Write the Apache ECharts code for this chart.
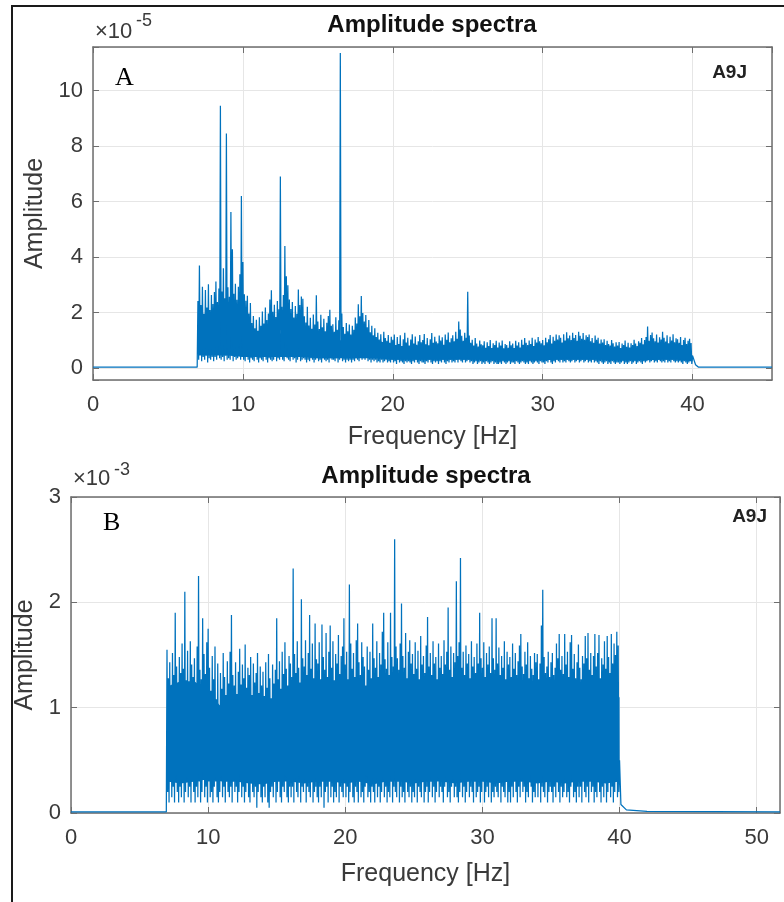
<!DOCTYPE html>
<html>
<head>
<meta charset="utf-8">
<script src="https://cdn.jsdelivr.net/npm/echarts@6/dist/echarts.min.js"></script>
<style>html,body{margin:0;padding:0;background:#fff}#c{width:784px;height:902px}</style>
</head>
<body>
<div id="c"></div>
<script>
// ---------- DATA ----------
// Frequency grid of the noisy band: 7.0 .. 39.9 Hz, one bin per 0.1 Hz
const bandStart = 7.0;
const bandStep = 0.1;
const xTicksA = [0, 10, 20, 30, 40];
const yTicksA = [0, 2, 4, 6, 8, 10];
const xTicksB = [0, 10, 20, 30, 40, 50];
const yTicksB = [0, 1, 2, 3];

// Panel A, amplitude in units of 1e-5: per-bin peak (upper) and trough (lower) values
const aHi = [
2.42,3.7,2.27,2.93,1.96,2.81,2.18,3.02,2.09,2.63,
2.31,2.74,3.12,2.38,2.87,9.45,2.76,3.6,2.52,8.45,
2.91,2.57,5.62,4.28,2.68,3.04,2.46,2.93,3.38,6.2,
3.82,2.66,2.43,2.61,1.97,2.34,1.62,1.88,1.43,1.74,
1.34,1.83,1.52,2.04,1.61,2.18,1.73,1.97,2.47,2.8,
2.03,2.28,1.84,2.42,2.12,6.9,2.21,2.63,4.4,3.31,
2.98,2.47,2.13,2.38,1.82,2.24,1.96,2.83,2.27,2.58,
2.5,1.87,1.64,2.21,1.53,1.81,1.42,1.93,1.57,2.62,
1.68,1.41,1.92,1.47,1.78,1.33,1.63,1.88,2.1,1.52,
1.58,1.31,1.83,1.38,1.72,11.35,1.97,1.48,1.24,1.62,
1.33,1.57,1.21,1.52,1.38,1.82,1.61,2.3,1.87,2.6,
1.98,1.68,1.91,1.47,1.73,1.29,1.52,1.18,1.43,1.12,
1.27,1.03,1.22,0.94,1.31,1.08,0.98,1.19,0.91,1.13,
1.02,1.21,0.83,1.12,0.87,1.18,0.79,1.04,1.27,0.92,
1.09,0.81,1.03,1.22,0.88,1.14,0.84,0.97,1.19,0.93,
1.01,1.23,0.86,1.08,0.82,1.04,1.26,0.91,1.13,0.96,
0.89,1.17,0.99,1.11,0.84,1.21,1.02,1.28,0.93,1.07,
1.18,0.97,1.31,1.06,1.68,1.39,1.16,0.98,1.27,1.09,
2.75,1.17,0.91,1.02,0.81,1.08,0.88,0.78,0.99,0.86,
0.82,0.97,0.73,0.93,0.79,1.01,0.72,0.89,0.83,0.98,
0.74,0.92,0.81,0.99,0.71,0.87,0.83,0.73,0.97,0.82,
0.88,0.72,0.98,0.81,0.93,0.74,1.02,0.84,1.08,0.91,
0.83,0.99,0.87,1.09,0.79,1.03,0.92,1.12,0.97,0.89,
1.01,0.82,1.09,0.93,1.04,1.19,0.88,1.13,0.98,1.21,
1.03,1.18,1.09,0.92,1.22,0.99,1.29,1.07,1.17,1.01,
1.27,1.08,1.19,0.98,1.31,1.16,1.06,1.26,1.02,1.18,
1.12,1.21,0.97,1.08,0.91,1.17,1.02,1.09,0.88,1.03,
0.92,1.04,0.83,0.98,0.87,0.81,1.01,0.89,0.78,0.93,
0.81,0.94,0.72,0.88,0.83,0.99,0.77,0.91,0.74,0.89,
0.83,1.02,0.88,0.79,0.97,0.91,1.08,0.86,1.01,1.12,
1.5,0.98,1.19,1.28,1.07,0.97,1.21,0.92,1.11,1.03,
1.31,1.09,0.96,1.18,0.89,1.13,0.99,1.22,0.93,1.07,
1.04,0.91,1.12,0.83,1.01,1.09,0.87,0.98,1.06,0.9
];
const aLo = [
0.3,0.5,0.25,0.4,0.3,0.45,0.2,0.35,0.3,0.4,
0.25,0.4,0.3,0.5,0.35,0.3,0.4,0.25,0.45,0.3,
0.35,0.3,0.45,0.25,0.4,0.3,0.35,0.5,0.3,0.4,
0.3,0.25,0.4,0.3,0.2,0.35,0.3,0.25,0.4,0.3,
0.2,0.35,0.3,0.25,0.4,0.3,0.2,0.35,0.3,0.25,
0.3,0.4,0.25,0.35,0.3,0.45,0.3,0.25,0.4,0.35,
0.3,0.25,0.4,0.3,0.35,0.2,0.3,0.4,0.25,0.3,
0.35,0.3,0.2,0.3,0.25,0.35,0.3,0.2,0.3,0.35,
0.25,0.3,0.2,0.35,0.3,0.25,0.3,0.2,0.35,0.3,
0.3,0.25,0.35,0.2,0.3,0.4,0.25,0.3,0.2,0.3,
0.25,0.3,0.2,0.3,0.25,0.35,0.3,0.25,0.4,0.3,
0.35,0.3,0.4,0.25,0.3,0.2,0.3,0.25,0.3,0.2,
0.25,0.2,0.3,0.2,0.25,0.3,0.2,0.25,0.2,0.3,
0.2,0.25,0.15,0.3,0.2,0.25,0.2,0.15,0.25,0.2,
0.25,0.2,0.15,0.25,0.2,0.3,0.2,0.15,0.25,0.2,
0.2,0.15,0.25,0.2,0.3,0.2,0.15,0.25,0.2,0.25,
0.15,0.25,0.2,0.3,0.2,0.15,0.25,0.2,0.3,0.2,
0.25,0.2,0.3,0.2,0.35,0.25,0.2,0.3,0.2,0.25,
0.3,0.2,0.25,0.15,0.2,0.25,0.15,0.2,0.25,0.15,
0.2,0.15,0.25,0.2,0.15,0.2,0.25,0.15,0.2,0.15,
0.15,0.2,0.15,0.25,0.2,0.15,0.2,0.25,0.15,0.2,
0.2,0.15,0.25,0.2,0.15,0.2,0.25,0.2,0.15,0.2,
0.15,0.25,0.2,0.15,0.2,0.25,0.2,0.15,0.25,0.2,
0.2,0.15,0.25,0.2,0.3,0.2,0.15,0.25,0.2,0.3,
0.25,0.2,0.3,0.2,0.25,0.2,0.3,0.25,0.2,0.25,
0.3,0.2,0.25,0.3,0.2,0.25,0.3,0.2,0.25,0.3,
0.2,0.25,0.2,0.3,0.2,0.25,0.2,0.15,0.25,0.2,
0.15,0.2,0.25,0.15,0.2,0.15,0.25,0.2,0.15,0.2,
0.2,0.15,0.2,0.25,0.15,0.2,0.15,0.2,0.25,0.15,
0.2,0.25,0.15,0.2,0.25,0.2,0.15,0.25,0.2,0.25,
0.3,0.2,0.25,0.3,0.2,0.25,0.2,0.3,0.25,0.2,
0.25,0.2,0.3,0.2,0.25,0.2,0.3,0.25,0.2,0.25,
0.2,0.25,0.2,0.15,0.25,0.2,0.15,0.2,0.25,0.15
];
// Panel A flat parts outside the band: [Hz, amplitude]
const aBefore = [[0, 0.03], [6.95, 0.03]];
const aAfter = [[40.0, 0.45], [40.2, 0.12], [40.4, 0.03], [45.3, 0.03]];
// Dense (dark) core of the band, read per 1 Hz from 7 to 40 Hz
const coreFreq = [7,8,9,10,11,12,13,14,15,16,17,18,19,20,21,22,23,24,25,26,27,28,29,30,31,32,33,34,35,36,37,38,39,40];
const aCoreHi = [1.7,1.8,1.7,1.4,1.1,1.2,1.3,1.2,1.1,1.0,1.0,1.1,1.0,0.8,0.7,0.65,0.65,0.65,0.7,0.65,0.55,0.55,0.55,0.6,0.65,0.7,0.75,0.7,0.6,0.55,0.6,0.65,0.6,0.45];
const aCoreLo = [0.45,0.45,0.45,0.4,0.4,0.4,0.4,0.4,0.35,0.35,0.35,0.35,0.35,0.3,0.3,0.3,0.3,0.3,0.3,0.3,0.28,0.28,0.28,0.28,0.3,0.3,0.3,0.3,0.28,0.28,0.28,0.3,0.3,0.25];

// Panel B, amplitude in units of 1e-3
const bHi = [
1.55,1.28,1.43,1.17,1.52,1.31,1.9,1.39,1.22,1.48,
1.33,1.61,1.37,2.1,1.26,1.54,1.19,1.63,1.41,1.29,
1.47,1.21,1.58,2.25,1.36,1.27,1.85,1.51,1.32,1.62,
1.75,1.38,1.16,1.49,1.27,1.58,1.08,1.42,1.02,1.33,
1.18,1.52,1.29,1.12,1.44,1.23,1.53,1.88,1.31,1.21,
1.43,1.13,1.34,1.56,1.22,1.41,1.28,1.6,1.19,1.38,
1.31,1.48,1.12,1.42,1.24,1.33,1.52,1.14,1.39,1.21,
1.34,1.11,1.43,1.19,1.51,1.28,1.09,1.41,1.23,1.36,
1.85,1.27,1.44,1.18,1.53,1.32,1.62,1.37,1.21,1.49,
1.42,1.29,2.32,1.51,1.33,1.63,1.38,1.24,2.03,1.47,
1.39,1.64,1.31,1.52,1.88,1.37,1.61,1.28,1.8,1.46,
1.42,1.62,1.27,1.79,1.48,1.36,1.71,1.29,1.53,1.78,
1.38,1.63,1.26,1.51,1.42,1.69,1.32,1.49,1.58,1.85,
1.41,1.53,1.27,2.17,1.61,1.37,1.52,1.29,1.64,1.8,
1.43,1.31,1.62,1.48,1.39,1.21,1.58,1.36,1.53,1.28,
1.8,1.47,1.38,1.63,1.29,1.52,1.41,1.72,1.9,1.46,
1.37,1.62,1.31,1.9,1.48,1.39,2.6,1.58,1.47,1.36,
1.61,1.99,1.49,1.38,1.71,1.28,1.53,1.64,1.42,1.51,
1.32,1.62,1.37,1.54,1.27,1.68,1.41,1.49,1.33,1.59,
1.86,1.39,1.52,1.31,1.63,1.42,1.48,1.27,1.61,1.38,
1.49,1.32,1.64,1.41,1.53,1.95,1.36,1.58,1.29,1.52,
1.43,2.2,1.49,1.62,2.42,1.38,1.53,1.31,1.59,1.42,
1.51,1.28,1.63,1.39,1.48,1.33,1.61,1.42,1.9,1.47,
1.38,1.62,1.29,1.52,1.41,1.58,1.33,1.85,1.47,1.36,
1.85,1.42,1.57,1.31,1.49,1.38,1.63,1.27,1.53,1.41,
1.48,1.29,1.61,1.37,1.52,1.31,1.44,1.59,1.7,1.39,
1.32,1.53,1.41,1.62,1.28,1.49,1.37,1.31,1.52,1.43,
1.51,1.27,1.42,1.78,2.12,1.48,1.33,1.39,1.53,1.29,
1.43,1.52,1.31,1.38,1.61,1.47,1.7,1.36,1.49,1.32,
1.7,1.41,1.53,1.29,1.62,1.69,1.37,1.51,1.28,1.43,
1.6,1.38,1.27,1.49,1.42,1.68,1.47,1.71,1.36,1.52,
1.31,1.49,1.7,1.39,1.52,1.69,1.28,1.47,1.41,1.63,
1.37,1.68,1.48,1.33,1.7,1.42,1.61,1.5,1.72,1.59
];
const bLo = [
0.2,0.1,0.3,0.15,0.25,0.1,0.35,0.2,0.1,0.25,
0.15,0.3,0.1,0.2,0.35,0.15,0.25,0.1,0.3,0.2,
0.1,0.25,0.15,0.3,0.1,0.2,0.35,0.15,0.25,0.1,
0.3,0.15,0.2,0.1,0.25,0.3,0.15,0.1,0.2,0.35,
0.15,0.25,0.1,0.3,0.2,0.15,0.25,0.1,0.3,0.2,
0.25,0.1,0.2,0.35,0.15,0.25,0.1,0.2,0.3,0.15,
0.1,0.3,0.2,0.15,0.25,0.05,0.2,0.3,0.15,0.1,
0.25,0.15,0.3,0.1,0.05,0.2,0.25,0.15,0.3,0.1,
0.2,0.3,0.15,0.1,0.25,0.2,0.35,0.15,0.1,0.25,
0.15,0.25,0.1,0.3,0.2,0.15,0.35,0.1,0.25,0.2,
0.3,0.1,0.25,0.2,0.15,0.3,0.1,0.2,0.25,0.15,
0.1,0.25,0.15,0.3,0.05,0.2,0.25,0.1,0.3,0.15,
0.25,0.1,0.2,0.15,0.3,0.1,0.25,0.2,0.15,0.3,
0.15,0.25,0.1,0.2,0.3,0.15,0.1,0.25,0.2,0.1,
0.3,0.15,0.2,0.1,0.25,0.35,0.15,0.2,0.1,0.25,
0.2,0.1,0.3,0.15,0.25,0.1,0.2,0.3,0.15,0.25,
0.1,0.2,0.15,0.3,0.1,0.25,0.2,0.15,0.3,0.1,
0.25,0.15,0.2,0.1,0.3,0.2,0.15,0.25,0.1,0.2,
0.15,0.3,0.1,0.25,0.2,0.15,0.3,0.1,0.2,0.25,
0.1,0.2,0.3,0.15,0.25,0.1,0.2,0.35,0.15,0.25,
0.2,0.1,0.25,0.3,0.15,0.2,0.1,0.25,0.3,0.15,
0.25,0.15,0.1,0.2,0.3,0.15,0.25,0.1,0.2,0.3,
0.15,0.25,0.2,0.1,0.3,0.15,0.2,0.25,0.1,0.2,
0.3,0.1,0.2,0.25,0.15,0.3,0.1,0.2,0.15,0.25,
0.2,0.15,0.3,0.1,0.25,0.2,0.15,0.3,0.1,0.2,
0.1,0.25,0.15,0.3,0.2,0.1,0.25,0.15,0.3,0.2,
0.25,0.1,0.2,0.15,0.3,0.25,0.1,0.2,0.15,0.3,
0.15,0.3,0.1,0.25,0.2,0.15,0.3,0.1,0.2,0.25,
0.2,0.1,0.25,0.15,0.3,0.2,0.1,0.25,0.15,0.2,
0.3,0.15,0.2,0.1,0.25,0.3,0.15,0.2,0.1,0.25,
0.15,0.25,0.1,0.3,0.2,0.15,0.25,0.1,0.3,0.2,
0.25,0.1,0.2,0.15,0.3,0.2,0.1,0.25,0.15,0.3,
0.1,0.2,0.3,0.15,0.25,0.1,0.2,0.3,0.15,0.2
];
const bBefore = [[0, 0.01], [6.95, 0.01]];
const bAfter = [[40.0, 0.5], [40.1, 0.08], [40.5, 0.03], [42, 0.015], [51.7, 0.01]];
const bCoreHi = [1.2,1.25,1.25,1.15,1.0,1.1,1.05,1.05,1.1,1.15,1.15,1.2,1.15,1.15,1.1,1.15,1.2,1.15,1.1,1.15,1.1,1.15,1.2,1.1,1.05,1.1,1.15,1.15,1.05,1.1,1.05,1.15,1.1,1.1];
const bCoreLo = [0.3,0.28,0.3,0.32,0.3,0.3,0.28,0.27,0.3,0.3,0.28,0.3,0.3,0.28,0.3,0.27,0.3,0.3,0.28,0.3,0.3,0.28,0.3,0.3,0.28,0.3,0.3,0.28,0.3,0.28,0.3,0.3,0.28,0.3];

// ---------- BUILD ----------
function buildSeries(before, hi, lo, after) {
  const out = before.slice();
  for (let i = 0; i < hi.length; i++) {
    const f = +(bandStart + i * bandStep).toFixed(2);
    out.push([f, hi[i]]);
    out.push([+(f + bandStep / 2).toFixed(3), lo[i]]);
  }
  return out.concat(after);
}
const dataA = buildSeries(aBefore, aHi, aLo, aAfter);
const dataB = buildSeries(bBefore, bHi, bLo, bAfter);

const BLUE = '#0072BD';
const FONT = '"Liberation Sans", Arial, Helvetica, sans-serif';
const axisCol = '#6e6e6e';
const labelCol = '#3a3a3a';
const gridCol = '#e6e6e6';

// Dense core drawn as one polygon through the library's coordinate system
function coreSeries(ax, lo, hi) {
  return {
    type: 'custom', xAxisIndex: ax, yAxisIndex: ax, silent: true, z: 2,
    data: [[coreFreq[0], lo[0]]],
    renderItem: function (params, api) {
      const pts = [];
      for (let i = 0; i < coreFreq.length; i++) pts.push(api.coord([coreFreq[i], hi[i]]));
      for (let i = coreFreq.length - 1; i >= 0; i--) pts.push(api.coord([coreFreq[i], lo[i]]));
      return { type: 'polygon', shape: { points: pts }, style: { fill: BLUE } };
    }
  };
}

function xAxes(gi, max, ticks, nameGap) {
  const interval = ticks[1] - ticks[0];
  return [{
    gridIndex: gi, type: 'value', min: ticks[0], max: max, interval: interval, position: 'bottom',
    axisLine: { onZero: false, lineStyle: { color: axisCol, width: 1.5 } },
    axisTick: { inside: true, length: 6, lineStyle: { color: axisCol } },
    axisLabel: { fontSize: 22, color: labelCol, fontFamily: FONT, margin: 14, showMaxLabel: false,
      formatter: v => (ticks.indexOf(v) >= 0 ? String(v) : '') },
    splitLine: { show: true, lineStyle: { color: gridCol, width: 1 } },
    name: 'Frequency [Hz]', nameLocation: 'middle', nameGap: nameGap,
    nameTextStyle: { fontSize: 25, color: labelCol, fontFamily: FONT }
  }, {
    gridIndex: gi, type: 'value', min: ticks[0], max: max, interval: interval, position: 'top',
    axisLine: { onZero: false, lineStyle: { color: axisCol, width: 1.5 } },
    axisTick: { inside: true, length: 6, lineStyle: { color: axisCol } },
    axisLabel: { show: false }, splitLine: { show: false }
  }];
}
function yAxes(gi, min, max, ticks, nameGap) {
  const interval = ticks[1] - ticks[0];
  const common = {
    gridIndex: gi, type: 'value', min: min, max: max, minInterval: interval, maxInterval: interval
  };
  return [Object.assign({}, common, {
    position: 'left',
    axisLine: { onZero: false, lineStyle: { color: axisCol, width: 1.5 } },
    axisTick: { inside: true, length: 6, lineStyle: { color: axisCol } },
    axisLabel: { fontSize: 22, color: labelCol, fontFamily: FONT, margin: 10,
      formatter: v => (ticks.indexOf(Math.round(v * 1000) / 1000) >= 0 && Math.abs(v - Math.round(v)) < 1e-6 ? String(Math.round(v)) : '') },
    splitLine: { show: true, lineStyle: { color: gridCol, width: 1 } },
    name: 'Amplitude', nameLocation: 'middle', nameGap: nameGap,
    nameTextStyle: { fontSize: 25, color: labelCol, fontFamily: FONT }
  }), Object.assign({}, common, {
    position: 'right',
    axisLine: { onZero: false, lineStyle: { color: axisCol, width: 1.5 } },
    axisTick: { inside: true, length: 6, lineStyle: { color: axisCol } },
    axisLabel: { show: false }, splitLine: { show: false }
  })];
}

const chart = echarts.init(document.getElementById('c'), null, { renderer: 'canvas' });
const txt = (x, y, text, font, align, fill) => ({
  type: 'text', x: x, y: y, silent: true,
  style: { text: text, font: font, align: align || 'left', verticalAlign: 'middle', fill: fill || '#222' }
});
chart.setOption({
  animation: false,
  backgroundColor: '#fff',
  grid: [
    { left: 93, top: 47, width: 679, height: 333 },
    { left: 71, top: 497, width: 709, height: 316 }
  ],
  xAxis: xAxes(0, 45.3, xTicksA, 45).concat(xAxes(1, 51.7, xTicksB, 49)),
  yAxis: yAxes(0, -0.43, 11.57, yTicksA, 45).concat(yAxes(1, 0, 3, yTicksB, 28)),
  series: [
    coreSeries(0, aCoreLo, aCoreHi),
    { type: 'line', xAxisIndex: 0, yAxisIndex: 0, data: dataA, symbol: 'none', sampling: null,
      lineStyle: { color: BLUE, width: 1.25 }, z: 3 },
    coreSeries(2, bCoreLo, bCoreHi),
    { type: 'line', xAxisIndex: 2, yAxisIndex: 2, data: dataB, symbol: 'none', sampling: null,
      lineStyle: { color: BLUE, width: 1.25 }, z: 3 }
  ],
  graphic: [
    { type: 'rect', silent: true, shape: { x: 12, y: 6, width: 820, height: 940 },
      style: { fill: 'none', stroke: '#1a1a1a', lineWidth: 2 } },
    txt(432, 25, 'Amplitude spectra', 'bold 24px ' + FONT, 'center', '#111'),
    txt(426, 476, 'Amplitude spectra', 'bold 24px ' + FONT, 'center', '#111'),
    txt(95, 32, '\u00d710', '22px ' + FONT, 'left', labelCol),
    txt(136, 21, '-5', '18px ' + FONT, 'left', labelCol),
    txt(73, 479, '\u00d710', '22px ' + FONT, 'left', labelCol),
    txt(114, 470, '-3', '18px ' + FONT, 'left', labelCol),
    txt(115, 78, 'A', '26px "Liberation Serif", "Times New Roman", serif', 'left', '#000'),
    txt(103, 523, 'B', '26px "Liberation Serif", "Times New Roman", serif', 'left', '#000'),
    txt(747, 73, 'A9J', 'bold 19px ' + FONT, 'right', '#222'),
    txt(767, 517, 'A9J', 'bold 19px ' + FONT, 'right', '#222')
  ]
});
</script>
</body>
</html>
